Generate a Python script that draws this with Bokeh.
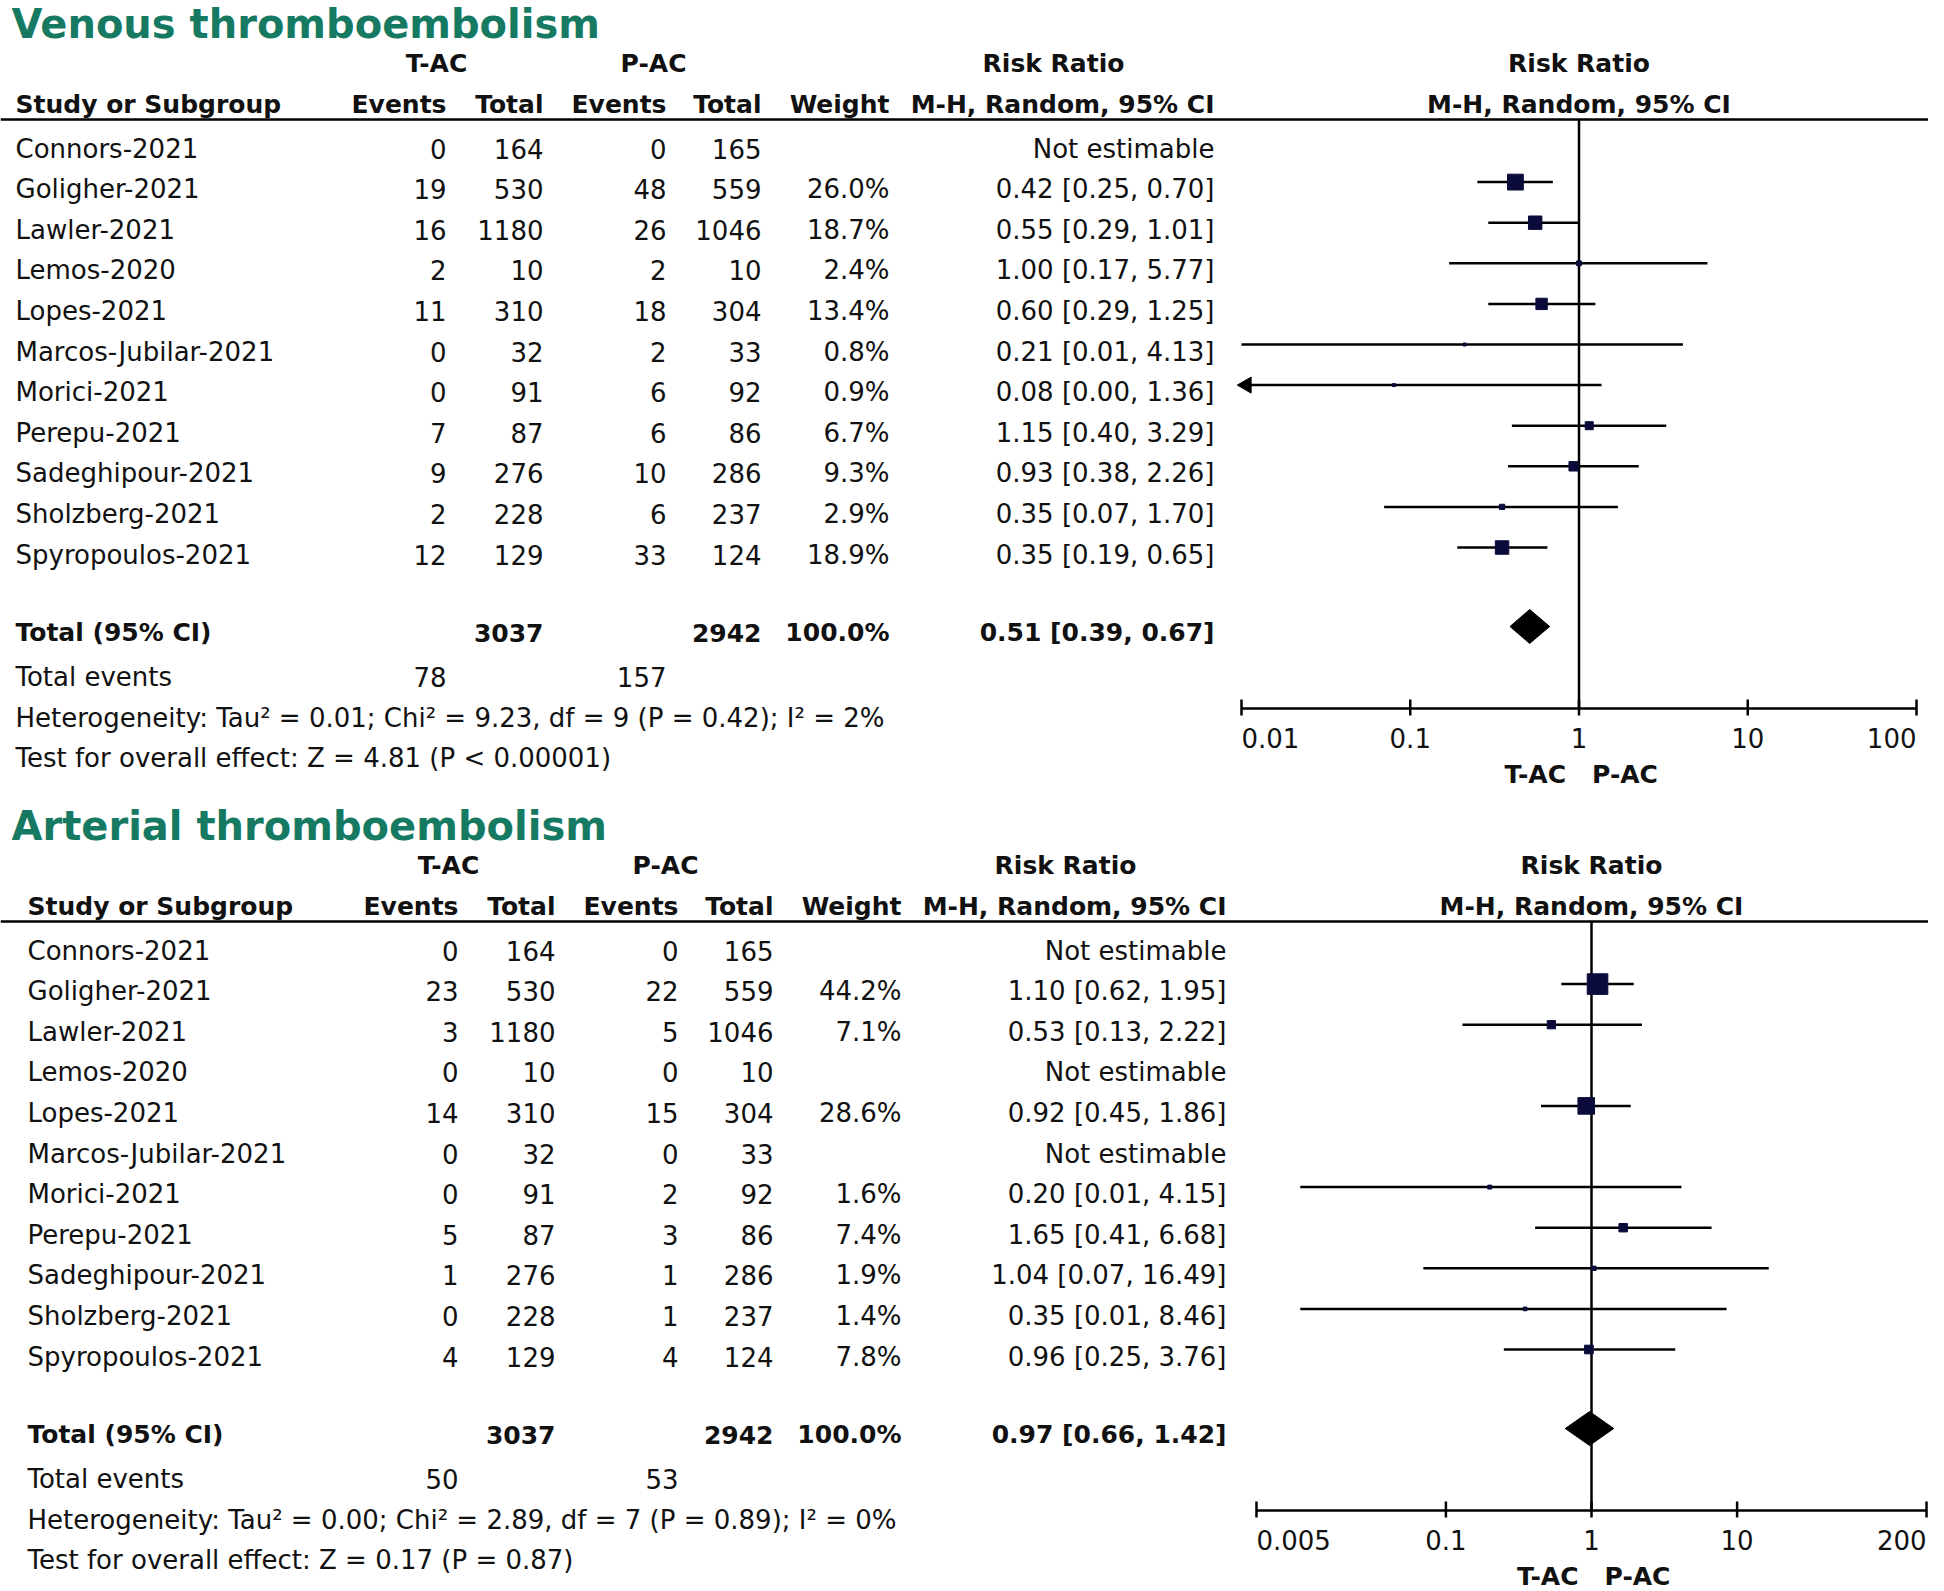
import math
from bokeh.plotting import figure
from bokeh.models import Range1d, LogScale, ColumnDataSource
from bokeh.core.properties import value
from bokeh.embed import file_html
from bokeh.resources import INLINE

# ---------------- data ----------------
studies = ["Connors-2021", "Goligher-2021", "Lawler-2021", "Lemos-2020", "Lopes-2021",
           "Marcos-Jubilar-2021", "Morici-2021", "Perepu-2021", "Sadeghipour-2021",
           "Sholzberg-2021", "Spyropoulos-2021"]
tac_total = [164, 530, 1180, 10, 310, 32, 91, 87, 276, 228, 129]
pac_total = [165, 559, 1046, 10, 304, 33, 92, 86, 286, 237, 124]

# Venous thromboembolism
vte_tac_events = [0, 19, 16, 2, 11, 0, 0, 7, 9, 2, 12]
vte_pac_events = [0, 48, 26, 2, 18, 2, 6, 6, 10, 6, 33]
vte_weight = [None, 26.0, 18.7, 2.4, 13.4, 0.8, 0.9, 6.7, 9.3, 2.9, 18.9]
vte_rr = [None, 0.42, 0.55, 1.00, 0.60, 0.21, 0.08, 1.15, 0.93, 0.35, 0.35]
vte_lo = [None, 0.25, 0.29, 0.17, 0.29, 0.01, 0.00, 0.40, 0.38, 0.07, 0.19]
vte_hi = [None, 0.70, 1.01, 5.77, 1.25, 4.13, 1.36, 3.29, 2.26, 1.70, 0.65]
vte_totals = [3037, 2942]
vte_events = [78, 157]
vte_pooled = [0.51, 0.39, 0.67]
vte_het = "Heterogeneity: Tau\u00b2 = 0.01; Chi\u00b2 = 9.23, df = 9 (P = 0.42); I\u00b2 = 2%"
vte_test = "Test for overall effect: Z = 4.81 (P < 0.00001)"
vte_ticks = [0.01, 0.1, 1, 10, 100]
vte_tick_labels = ["0.01", "0.1", "1", "10", "100"]

# Arterial thromboembolism
ate_tac_events = [0, 23, 3, 0, 14, 0, 0, 5, 1, 0, 4]
ate_pac_events = [0, 22, 5, 0, 15, 0, 2, 3, 1, 1, 4]
ate_weight = [None, 44.2, 7.1, None, 28.6, None, 1.6, 7.4, 1.9, 1.4, 7.8]
ate_rr = [None, 1.10, 0.53, None, 0.92, None, 0.20, 1.65, 1.04, 0.35, 0.96]
ate_lo = [None, 0.62, 0.13, None, 0.45, None, 0.01, 0.41, 0.07, 0.01, 0.25]
ate_hi = [None, 1.95, 2.22, None, 1.86, None, 4.15, 6.68, 16.49, 8.46, 3.76]
ate_totals = [3037, 2942]
ate_events = [50, 53]
ate_pooled = [0.97, 0.66, 1.42]
ate_het = "Heterogeneity: Tau\u00b2 = 0.00; Chi\u00b2 = 2.89, df = 7 (P = 0.89); I\u00b2 = 0%"
ate_test = "Test for overall effect: Z = 0.17 (P = 0.87)"
ate_ticks = [0.005, 0.1, 1, 10, 200]
ate_tick_labels = ["0.005", "0.1", "1", "10", "200"]

group_labels = ["T-AC", "P-AC"]

# ---------------- layout / style ----------------
FONT = "DejaVu Sans"
FS = "26px"
FSB = "25px"
TXT = "#111111"
TEAL = "#167a63"
BOX = "#0b0b3b"
W, H = 1928, 1591
M = 0

p = figure(width=W, height=H, x_range=Range1d(M, M + W), y_range=Range1d(M + H, M),
           output_backend="svg", toolbar_location=None, min_border=0,
           x_axis_location=None, y_axis_location=None)
p.grid.visible = False
p.outline_line_color = None
p.background_fill_color = "white"
p.border_fill_color = "white"

extra_ranges = {}
extra_scales = {}


def txt(xs, ys, texts, align="left", bold=False, size=None, color=TXT, rn="default"):
    if size is None:
        size = FSB if bold else FS
    src = ColumnDataSource(dict(x=xs, y=ys, t=texts))
    p.text(x="x", y="y", text="t", source=src, text_align=align, text_baseline="middle",
           text_font=value(FONT), text_font_size=size,
           text_font_style="bold" if bold else "normal", text_color=color,
           x_range_name=rn)


def fmt_ci(r, l, h):
    return f"{r:.2f} [{l:.2f}, {h:.2f}]"


def panel(key, title, tac_e, pac_e, wt, rr, lo, hi, totals, events, pooled, het, test,
          ticks, tick_labels, oy, dx, c, k):
    extra_ranges[key] = Range1d(10 ** ((M - c) / k), 10 ** ((M + W - c) / k))
    extra_scales[key] = LogScale()

    # title
    txt([11], [oy + 23], [title], bold=True, size="40px", color=TEAL)
    # header rows
    hy1, hy2 = oy + 63, oy + 104
    txt([436 + dx, 653 + dx], [hy1, hy1], group_labels, align="center", bold=True)
    txt([1053 + dx], [hy1], ["Risk Ratio"], align="center", bold=True)
    txt([1], [hy1], ["Risk Ratio"], align="center", bold=True, rn=key)
    txt([1], [hy2], ["M-H, Random, 95% CI"], align="center", bold=True, rn=key)
    txt([15 + dx], [hy2], ["Study or Subgroup"], bold=True)
    col_r = [446 + dx, 543 + dx, 666 + dx, 761 + dx, 889 + dx, 1214 + dx]
    txt(col_r, [hy2] * 6, ["Events", "Total", "Events", "Total", "Weight", "M-H, Random, 95% CI"],
        align="right", bold=True)
    p.segment(x0=[0], x1=[M + W], y0=[oy + 119], y1=[oy + 119], line_color="black", line_width=2.5)

    # study rows
    n = len(studies)
    ys = [oy + 148 + 40.6 * i for i in range(n)]
    txt([15 + dx] * n, ys, studies)
    txt([col_r[0]] * n, ys, [str(v) for v in tac_e], align="right")
    txt([col_r[1]] * n, ys, [str(v) for v in tac_total], align="right")
    txt([col_r[2]] * n, ys, [str(v) for v in pac_e], align="right")
    txt([col_r[3]] * n, ys, [str(v) for v in pac_total], align="right")
    txt([col_r[4]] * n, ys, ["" if w is None else f"{w:.1f}%" for w in wt], align="right")
    txt([col_r[5]] * n, ys,
        ["Not estimable" if r is None else fmt_ci(r, l, h) for r, l, h in zip(rr, lo, hi)],
        align="right")

    # total rows
    ty = oy + 632
    txt([15 + dx], [ty], ["Total (95% CI)"], bold=True)
    txt([col_r[1], col_r[3], col_r[4], col_r[5]], [ty] * 4,
        [str(totals[0]), str(totals[1]), "100.0%", fmt_ci(*pooled)], align="right", bold=True)
    ey = oy + 676
    txt([15 + dx], [ey], ["Total events"])
    txt([col_r[0], col_r[2]], [ey, ey], [str(events[0]), str(events[1])], align="right")
    txt([15 + dx], [oy + 717], [het])
    txt([15 + dx], [oy + 757], [test])

    # forest plot
    amin, amax = ticks[0], ticks[-1]
    ay = oy + 708
    p.segment(x0=[1], x1=[1], y0=[oy + 119], y1=[ay], line_color="black", line_width=2.5,
              x_range_name=key)
    x0s, x1s, yl, mx, my, ms = [], [], [], [], [], []
    arrows_x, arrows_y = [], []
    for i, (r, l, h, w) in enumerate(zip(rr, lo, hi, wt)):
        if r is None:
            continue
        yy = ys[i] - 7
        x0s.append(max(l, amin))
        x1s.append(min(h, amax))
        yl.append(yy)
        mx.append(r)
        my.append(yy)
        ms.append(max(3.0, 3.1 * math.sqrt(w)))
        if l < amin:
            arrows_x.append(amin * 10 ** (5 / k))
            arrows_y.append(yy)
    p.segment(x0=x0s, x1=x1s, y0=yl, y1=yl, line_color="black", line_width=2.5, x_range_name=key)
    p.scatter(x=mx, y=my, size=ms, marker="square", fill_color=BOX, line_color=BOX,
              x_range_name=key)
    if arrows_x:
        p.scatter(x=arrows_x, y=arrows_y, size=16, marker="triangle", angle=math.pi / 2,
                  fill_color="black", line_color="black", x_range_name=key)
    # pooled diamond
    dy = ty - 6
    p.patches(xs=[[pooled[1], pooled[0], pooled[2], pooled[0]]],
              ys=[[dy, dy - 17, dy, dy + 17]], fill_color="black", line_color="black",
              x_range_name=key)
    # axis
    p.segment(x0=[amin], x1=[amax], y0=[ay], y1=[ay], line_color="black", line_width=2.5,
              x_range_name=key)
    p.segment(x0=ticks, x1=ticks, y0=[ay - 9] * len(ticks), y1=[ay + 7] * len(ticks),
              line_color="black", line_width=2.5, x_range_name=key)
    ly = oy + 737
    txt([ticks[0]], [ly], [tick_labels[0]], align="left", rn=key)
    txt(ticks[1:-1], [ly] * (len(ticks) - 2), tick_labels[1:-1], align="center", rn=key)
    txt([ticks[-1]], [ly], [tick_labels[-1]], align="right", rn=key)
    gy = oy + 774
    txt([1 / 10 ** (13 / k)], [gy], [group_labels[0]], align="right", bold=True, rn=key)
    txt([10 ** (13 / k)], [gy], [group_labels[1]], align="left", bold=True, rn=key)


panel("vte", "Venous thromboembolism", vte_tac_events, vte_pac_events, vte_weight, vte_rr,
      vte_lo, vte_hi, vte_totals, vte_events, vte_pooled, vte_het, vte_test,
      vte_ticks, vte_tick_labels, oy=0, dx=0, c=1578.5, k=168.75)
panel("ate", "Arterial thromboembolism", ate_tac_events, ate_pac_events, ate_weight, ate_rr,
      ate_lo, ate_hi, ate_totals, ate_events, ate_pooled, ate_het, ate_test,
      ate_ticks, ate_tick_labels, oy=802, dx=12, c=1591, k=145.6)

p.extra_x_ranges = extra_ranges
p.extra_x_scales = extra_scales

open("out.html", "w").write(file_html(p, INLINE))
